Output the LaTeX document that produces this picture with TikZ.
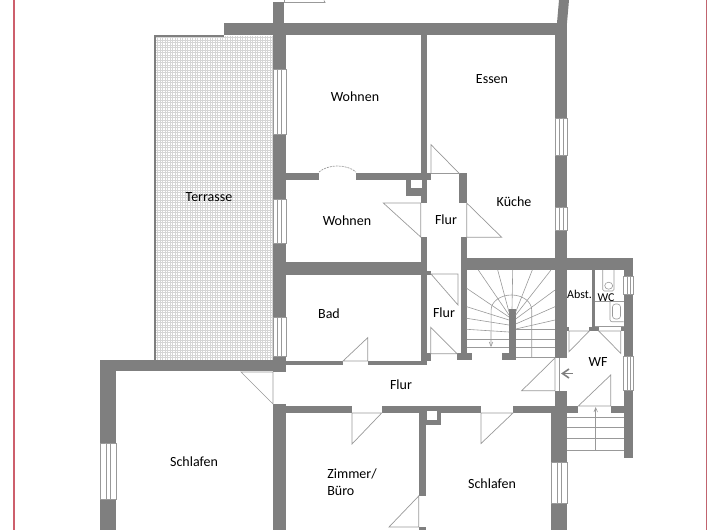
\documentclass[tikz,border=0pt]{standalone}
\usepackage{fontspec}
\setmainfont{Carlito}
\usetikzlibrary{arrows}
\definecolor{wallgray}{RGB}{127,127,127}
\definecolor{framered}{RGB}{205,95,108}
\tikzstyle{wall} = [fill=wallgray, draw=none]
\tikzstyle{window} = [draw=wallgray!80, fill=white, line width=0.5pt]
\tikzstyle{door} = [draw=wallgray!80, line width=0.7pt]
\tikzstyle{tread} = [draw=wallgray!80, line width=0.6pt]
\tikzstyle{label} = [text=black, font=\fontsize{14}{16.5}\selectfont, inner sep=0pt]
\tikzstyle{smalllabel} = [text=black, font=\fontsize{12}{13}\selectfont, inner sep=0pt]

\begin{document}
\begin{tikzpicture}[x=1pt, y=-1pt]
\useasboundingbox (0,0) rectangle (720,530);

% frame
\fill[framered] (13,0) rectangle (14.5,530);
\fill[framered!85!gray] (705.5,0) rectangle (707,530);

% terrace
\draw[gray!33, line width=0.5pt, step=2.5pt] (155,36) grid (273,360);
\draw[wallgray, line width=1.5pt] (154.8,360) -- (154.8,35.8) -- (224,35.8);

% walls
\foreach \xa/\ya/\xb/\yb in {
  224/23/567/35, 273/2/284/23, 273/35/286/69, 273/134/286/199, 273/243/286/317, 273/356/286/372,
  100/359.5/286/371, 100/359.5/116/443, 100/499/116/530, 273/404/286/530,
  286/406/352/413, 381.5/406/481/413, 513/406/555/413,
  418.7/413/426/496, 418.7/527/426/530,
  286/262/421/275, 286/361/343/365, 368/361/427/365,
  420.7/35/427/203, 420.7/237/427/361, 427/173/431/180, 427/271/431/275, 427/353/431/361,
  286/173.3/319/180.3, 356/173.3/421/180.3,
  459.3/173/466.7/203, 460.7/237/466.7/360, 457.3/353.3/471.7/359.7,
  460.7/258.3/633.3/269.7, 509/309.3/515.7/359.7, 501.7/353.3/515.7/359.7,
  555/35/567.3/118, 555/155/567.3/207, 555/230/567.3/358, 555/391/567.3/413, 551/413/567.3/462.7, 551/503.7/567.3/530,
  623.7/258.3/633.3/276.7, 623.7/294.3/633.3/356.7, 623.7/390/633.3/457.7,
  591.7/270/595/327, 589.3/327/598.7/331, 567/327/569/331, 620.5/327/624/331,
  567/406/578.3/413, 610.7/406/624/413}
  \path[wall] (\xa,\ya) rectangle (\xb,\yb);
\path[wall] (559,0) -- (569,0) -- (567,23) -- (557,23) -- cycle;

% shafts
\path[wall] (406,173) rectangle (422,195.7);
\fill[white] (411,179.5) rectangle (421.5,188.3);
\path[wall] (426,406) rectangle (440.7,425);
\fill[white] (427,411) rectangle (437,420);

% windows, upright
\foreach \xa/\xb/\ya/\yb in {273/286/69/134, 273/286/199/243, 273/286/317/356, 100/116/443/499,
  555/567.3/118/155, 555/567.3/207/230, 551/567.3/462.7/503.7,
  623.7/633.3/276.7/294.3, 623.7/633.3/356.7/390} {
  \draw[window] (\xa,\ya) rectangle (\xb,\yb);
  \draw[window] ({\xa+(\xb-\xa)*0.36},\ya) -- ({\xa+(\xb-\xa)*0.36},\yb);
  \draw[window] ({\xa+(\xb-\xa)*0.64},\ya) -- ({\xa+(\xb-\xa)*0.64},\yb);
}

% doors
\foreach \ax/\ay/\bx/\by/\cx/\cy in {
  273/372/241/372/273/404, 343/361/367.7/337.7/367.7/361,
  352/413/352/444/381.7/413, 481/413/481/443.5/513/413,
  418.7/496/389/527/418.7/527, 431/173.5/431/144.7/459.3/173.5,
  466.7/203/501.7/237.3/466.7/237.3, 420.7/237/383.3/203/420.7/203,
  431/274/458/274/458/305, 430.7/327.3/457/353.7/430.7/353.7,
  555/358/521.7/390.7/555/390.7, 569/331/569/351.7/589.3/331,
  598.7/331/620.7/353.3/620.7/331, 578.3/406/610.7/375/610.7/406}
  \draw[door] (\ax,\ay) -- (\bx,\by) -- (\cx,\cy) -- cycle;
\draw[door] (559,358) -- (559,391);
\draw[door] (324,0.5) -- (325,2.5) -- (284,2.5);
\draw[door] (284,0) -- (284,2.5);
\draw[door, dash pattern=on 2pt off 1pt] (319,172) .. controls (328,164) and (347,164) .. (356,172);

% arrow to the staircase
\draw[wallgray, line width=1.6pt] (572.5,373.5) -- (562.5,373.5);
\draw[wallgray, line width=1.6pt] (569,369) -- (562.5,373.5) -- (569,378);

% winding stairs
\foreach \tx/\ty/\sx/\sy in {
  478.3/270/509/315, 497.7/270/509/312, 512.7/270/512/309, 532.3/270/515.7/312, 551/270/515.7/315,
  555/290/515.7/319, 555/306.7/515.7/324, 555/320/515.7/329,
  466.7/288.3/509/317, 466.7/306.7/509/320, 466.7/318.3/509/325, 466.7/329.3/509/332}
  \draw[tread] (\tx,\ty) -- (\sx,\sy);
\foreach \ty in {339, 347.7}
  \draw[tread] (466.7,\ty) -- (509,\ty);
\foreach \ty in {329, 339, 347.7, 357}
  \draw[tread] (515.7,\ty) -- (555,\ty);
\draw[tread, ->, >=angle 45] (531.7,357) -- (531.7,310) arc (0:-180:20.3 and 15) -- (491,347);

% outside stairs
\foreach \ty in {417.3, 427.7, 438.3, 450.3}
  \draw[tread] (567.3,\ty) -- (623.7,\ty);
\draw[tread, ->, >=angle 45] (595.7,450.3) -- (595.7,407);

% sanitary
\draw[tread, rounded corners=1.5pt] (602.7,270) -- (602.7,291) -- (614,291) -- (614,270);
\draw[tread] (608.7,285.7) ellipse (4 and 3.5);
\draw[tread] (595,301) -- (623.7,301);
\draw[tread] (595,326.7) -- (623.7,326.7);
\draw[tread, rounded corners=2pt] (610,301.5) -- (610,321.7) -- (623.7,321.7);
\draw[tread, rounded corners=3pt] (612.5,304) rectangle (620.5,319);

% labels
\node (terrasse) [label] at (209,197) {Terrasse};
\node (wohnen1) [label] at (355,97) {Wohnen};
\node (wohnen2) [label] at (347,221) {Wohnen};
\node (essen) [label] at (492,79) {Essen};
\node (flur1) [label] at (446,220) {Flur};
\node (kueche) [label] at (514,202) {Küche};
\node (bad) [label] at (329,314) {Bad};
\node (flur2) [label] at (444,313) {Flur};
\node (abst) [smalllabel] at (579.5,294) {Abst.};
\node (wc) [smalllabel] at (606,298) {WC};
\node (wf) [label] at (598,362) {WF};
\node (flur3) [label] at (401,385) {Flur};
\node (schlafen1) [label] at (194,462) {Schlafen};
\node (zimmer) [label, align=left] at (352,482) {Zimmer/\\Büro};
\node (schlafen2) [label] at (492,484) {Schlafen};

\end{tikzpicture}
\end{document}
